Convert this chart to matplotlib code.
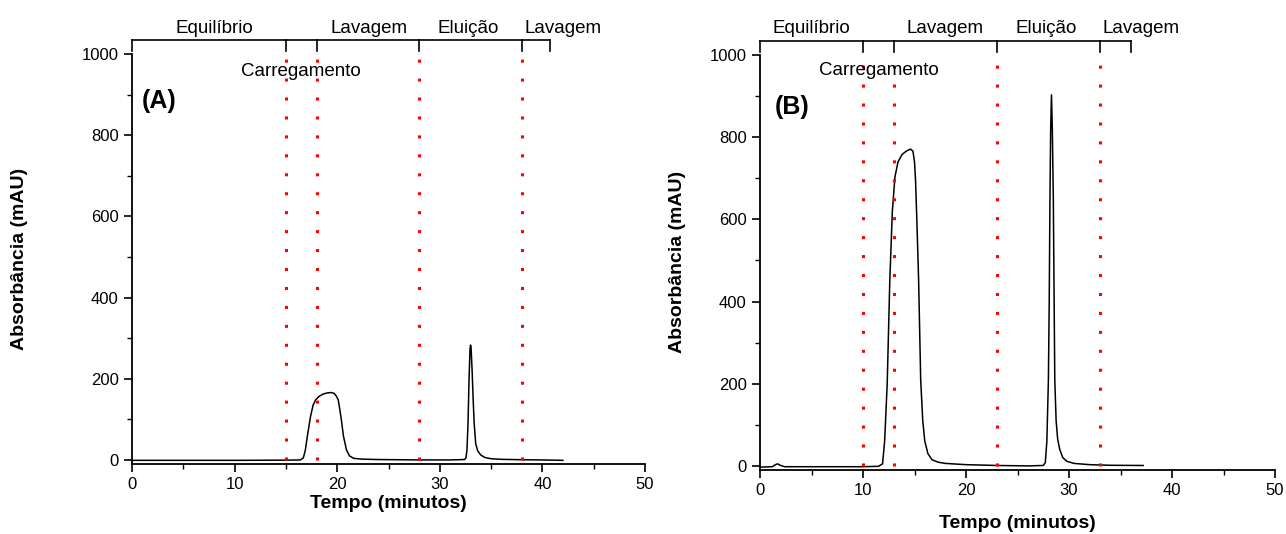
import matplotlib
matplotlib.use("Agg")
import matplotlib.pyplot as plt
from matplotlib.ticker import MultipleLocator

plt.rcParams['font.family'] = ['Liberation Sans', 'DejaVu Sans']

# chromatogram (A) - time (min), absorbance (mAU)
time_a = [0, 5, 10, 15, 16.4, 16.7, 16.9, 17.1, 17.4, 17.65, 17.9, 18.2, 18.6, 19.0, 19.4,
          19.7, 19.9, 20.1, 20.25, 20.4, 20.6, 20.9, 21.2, 21.6, 22.4, 24, 28, 31, 32.4,
          32.55, 32.65, 32.75, 32.85, 32.95, 33.0, 33.05, 33.15, 33.25, 33.35, 33.5, 33.7,
          34.0, 34.4, 35, 36, 38, 40, 42]
abs_a = [-1, -1, -1, -0.5, 0, 5, 25, 60, 107, 135, 148, 156, 162, 165, 166,
         164, 158, 148, 125, 100, 60, 25, 10, 4, 2, 1, 0, 0, 1,
         5, 25, 90, 200, 275, 283, 275, 220, 150, 90, 40, 22,
         12, 6, 3, 1.5, 0.5, 0, -1]

# chromatogram (B)
time_b = [0, 1.2, 1.5, 1.7, 2.0, 2.4, 5, 10, 11.5, 11.9, 12.1, 12.35, 12.6, 12.85, 13.1,
          13.4, 13.8, 14.2, 14.6, 14.85, 15.0, 15.1, 15.25, 15.4, 15.6, 15.8, 16.0, 16.3,
          16.7, 17.3, 18, 20, 23, 26, 27.5, 27.7, 27.85, 28.0, 28.08, 28.15, 28.22, 28.3,
          28.38, 28.48, 28.55, 28.62, 28.75, 28.9, 29.1, 29.4, 29.8, 30.5, 32, 34, 37.2]
abs_b = [-3, -2, 3, 5, 1, -2, -2, -2, -1, 5, 60, 200, 450, 620, 703,
         740, 758, 766, 771, 766, 740, 696, 580, 452, 210, 110, 60, 30,
         15, 9, 6, 3, 1, 0, 1, 8, 60, 209, 400, 647, 820, 903,
         820, 647, 420, 209, 110, 65, 40, 20, 11, 6, 3, 1.5, 1]

# step boundaries (min) and step labels
bounds_a = [0, 15, 18, 28, 38, 40.7]
bounds_b = [0, 10, 13, 23, 33, 36]
steps = ['Equilíbrio', 'Lavagem', 'Eluição', 'Lavagem']
steps_x_a = [8.0, 23.1, 32.8, 42.0]
steps_x_b = [5.0, 18.0, 27.8, 37.0]
load_x_a = 16.5
load_x_b = 11.5

fig = plt.figure(figsize=(12.86, 5.34), dpi=100)
ax_a = fig.add_axes([132/1286, 1-464/534, 513/1286, 410/534])
ax_b = fig.add_axes([760/1286, 1-470/534, 515/1286, 415/534])


def draw_panel(ax, t, y, bounds, steps_x, load_x, tag, tag_xy, txt_y, load_y):
    ax.plot(t, y, color='black', lw=1.1)
    for b in bounds[1:-1]:
        ax.plot([b, b], [0, 1010], color='#ff0000', lw=2.2,
                linestyle=(0, (1, 5.2)), clip_on=False)
    # bracket on top
    ax.plot([bounds[0], bounds[-1]], [1035, 1035], color='black', lw=1.2, clip_on=False)
    for b in bounds:
        ax.plot([b, b], [1035, 1008], color='black', lw=1.2, clip_on=False)
    for s, sx in zip(steps, steps_x):
        ax.text(sx, txt_y, s, ha='center', va='baseline', fontsize=13.5, clip_on=False)
    ax.text(load_x, load_y, 'Carregamento', ha='center', va='baseline', fontsize=13.5)
    ax.text(tag_xy[0], tag_xy[1], tag, ha='left', va='baseline', fontsize=18,
            fontweight='bold')

    ax.set_xlim(0, 50)
    ax.set_ylim(-10, 1000)
    ax.xaxis.set_major_locator(MultipleLocator(10))
    ax.xaxis.set_minor_locator(MultipleLocator(5))
    ax.yaxis.set_major_locator(MultipleLocator(200))
    ax.yaxis.set_minor_locator(MultipleLocator(100))
    ax.spines['top'].set_visible(False)
    ax.spines['right'].set_visible(False)
    for sp in ['left', 'bottom']:
        ax.spines[sp].set_linewidth(1.3)
    ax.tick_params(which='major', direction='out', length=6, width=1.2, labelsize=12)
    ax.tick_params(which='minor', direction='out', length=3.5, width=1.0)


draw_panel(ax_a, time_a, abs_a, bounds_a, steps_x_a, load_x_a, '(A)', (0.97, 866), 1051, 946)
draw_panel(ax_b, time_b, abs_b, bounds_b, steps_x_b, load_x_b, '(B)', (1.45, 856), 1053, 951)

fig.text(388.5/1286, 1-504/534, 'Tempo (minutos)', ha='center', va='center',
         fontsize=14, fontweight='bold')
fig.text(1017.5/1286, 1-523/534, 'Tempo (minutos)', ha='center', va='center',
         fontsize=14, fontweight='bold')
fig.text(20/1286, 1-259/534, 'Absorbância (mAU)', ha='center', va='center',
         rotation=90, fontsize=14, fontweight='bold')
fig.text(677/1286, 1-262/534, 'Absorbância (mAU)', ha='center', va='center',
         rotation=90, fontsize=14, fontweight='bold')

fig.savefig('out.png', dpi=100)
